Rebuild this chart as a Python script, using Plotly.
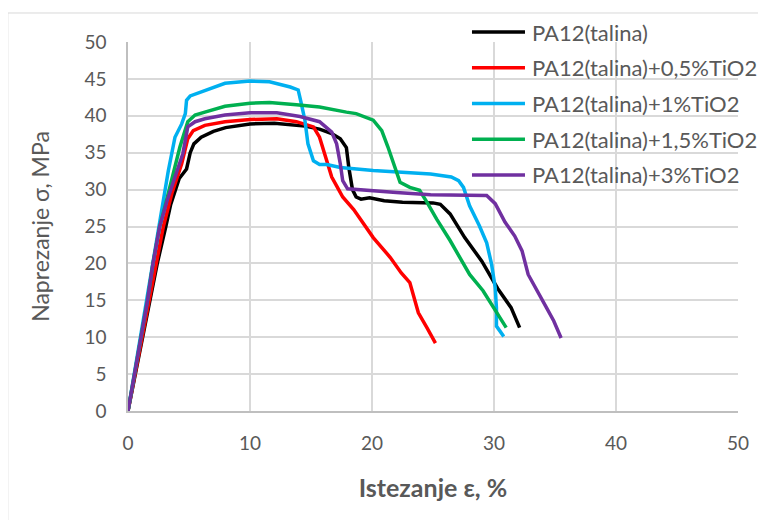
import plotly.graph_objects as go

# strain (%) / stress (MPa)
names = ['PA12(talina)', 'PA12(talina)+0,5%TiO2', 'PA12(talina)+1%TiO2',
         'PA12(talina)+1,5%TiO2', 'PA12(talina)+3%TiO2']
colors = ['#000000', '#FF0000', '#00B0F0', '#00B050', '#7030A0']

x_pa12 = [0, 0.6, 1.2, 1.8, 2.4, 3.1, 3.5, 4.2, 4.8, 5.1, 5.4, 6.0, 7.0, 8.0, 10.0, 12.0,
          13.3, 14.5, 15.7, 16.7, 17.4, 17.9, 18.1, 18.4, 18.7, 19.1, 19.8, 21.0, 22.5,
          24.0, 25.0, 25.6, 26.4, 27.6, 29.0, 30.3, 31.4, 32.1]
y_pa12 = [0, 5, 10, 15, 20, 25, 28, 31.5, 32.8, 35.0, 36.2, 37.1, 37.9, 38.4, 38.9, 39.0,
          38.8, 38.6, 38.2, 37.6, 36.9, 35.7, 33.0, 30.0, 29.0, 28.7, 28.9, 28.5, 28.3,
          28.2, 28.2, 28.0, 26.7, 23.5, 20.3, 16.6, 14.0, 11.3]

x_05 = [0, 0.58, 1.15, 1.72, 2.25, 2.9, 3.6, 4.4, 4.9, 5.35, 6.3, 7.95, 10.0, 12.2, 13.8,
        15.2, 15.7, 16.1, 16.7, 17.2, 17.6, 18.5, 19.3, 20.1, 21.5, 22.4, 23.1, 23.5,
        23.8, 24.5, 25.2]
y_05 = [0, 5, 10, 15, 20, 25, 29.5, 33.5, 36.9, 38.0, 38.7, 39.2, 39.5, 39.6, 39.2,
        38.5, 37.1, 34.9, 31.7, 30.2, 29.0, 27.3, 25.3, 23.5, 20.8, 18.7, 17.4, 14.9,
        13.3, 11.3, 9.2]

x_1 = [0, 0.5, 1.0, 1.5, 2.0, 2.6, 3.3, 3.85, 4.4, 4.7, 4.8, 5.1, 6.0, 7.95, 10.0, 11.6,
       13.3, 13.95, 14.2, 14.5, 14.75, 15.2, 15.7, 16.3, 17.4, 20.1, 24.8, 26.5, 27.1,
       27.5, 28.0, 28.8, 29.4, 29.8, 30.1, 30.2, 30.2, 30.8]
y_1 = [0, 5, 10, 15, 20, 25.8, 32.5, 37.1, 38.9, 40.3, 42.1, 42.7, 43.2, 44.4, 44.7,
       44.6, 43.9, 43.5, 41.7, 39.4, 36.2, 33.9, 33.4, 33.4, 33.0, 32.6, 32.1, 31.7,
       31.2, 30.3, 27.8, 25.1, 22.8, 19.9, 16.7, 14.0, 11.5, 10.1]

x_15 = [0, 0.55, 1.05, 1.6, 2.05, 2.6, 3.0, 3.6, 4.26, 4.9, 5.5, 6.3, 7.95, 10.0, 11.6,
        13.8, 15.7, 17.9, 18.7, 20.1, 20.8, 21.3, 21.9, 22.3, 23.1, 23.9, 24.5, 25.3,
        26.4, 27.2, 28.0, 29.1, 30.2, 31.0]
y_15 = [0, 5, 10, 15, 20, 25, 27.5, 31.5, 35.8, 39.2, 40.1, 40.5, 41.3, 41.7, 41.8,
        41.5, 41.2, 40.5, 40.3, 39.4, 38.0, 35.8, 33.0, 31.0, 30.3, 29.9, 28.3, 26.0,
        23.1, 20.8, 18.5, 16.3, 13.5, 11.3]

x_3 = [0, 0.55, 1.05, 1.6, 2.05, 2.6, 3.2, 3.8, 4.5, 4.9, 5.5, 6.3, 7.95, 10.0, 12.2,
       14.1, 15.7, 16.7, 17.1, 17.4, 17.6, 18.0, 19.3, 22.0, 24.8, 27.2, 29.4, 30.1,
       30.9, 31.7, 32.3, 32.8, 33.5, 34.3, 34.9, 35.5]
y_3 = [0, 5, 10, 15, 20, 25, 28.5, 31.5, 34.9, 38.5, 39.2, 39.6, 40.1, 40.4, 40.4,
       39.9, 39.2, 37.8, 36.2, 33.5, 31.2, 30.1, 29.9, 29.6, 29.3, 29.2, 29.2, 28.1,
       25.6, 23.7, 21.7, 18.5, 16.3, 14.0, 12.2, 9.9]

xs = [x_pa12, x_05, x_1, x_15, x_3]
ys = [y_pa12, y_05, y_1, y_15, y_3]

x_ticks = [0, 10, 20, 30, 40, 50]
y_ticks = [0, 5, 10, 15, 20, 25, 30, 35, 40, 45, 50]

font_family = 'Lato, Open Sans, sans-serif'
text_grey = '#595959'

fig = go.Figure()
for name, color, x, y in zip(names, colors, xs, ys):
    fig.add_trace(go.Scatter(
        x=x, y=y, name=name, mode='lines',
        line=dict(color=color, width=3.5),
    ))

# Excel-style legend drawn by hand (longer line samples, fixed row spacing)
shapes = [dict(type='rect', xref='paper', yref='paper',
               x0=-0.197, x1=1.06, y0=-0.32, y1=1.0786,
               line=dict(color='#D9D9D9', width=1), layer='below')]
annotations = []
for i, (name, color) in enumerate(zip(names, colors)):
    ly = 1.0271 - 0.0968 * i
    shapes.append(dict(type='line', xref='paper', yref='paper',
                       x0=0.5639, x1=0.6508, y0=ly, y1=ly,
                       line=dict(color=color, width=3.5)))
    annotations.append(dict(text=name, xref='paper', yref='paper', x=0.659, y=ly,
                            xanchor='left', yanchor='middle', showarrow=False,
                            font=dict(size=22, color=text_grey)))

fig.update_layout(
    width=766, height=520,
    margin=dict(l=120, r=36, t=34, b=117),
    paper_bgcolor='white', plot_bgcolor='white',
    font=dict(family=font_family, color=text_grey, size=19),
    showlegend=False,
    shapes=shapes,
    annotations=annotations,
)
fig.update_xaxes(
    range=[0, 50], tickvals=x_ticks, showgrid=True, gridcolor='#D9D9D9', gridwidth=1.5,
    zeroline=False, showline=True, linecolor='#BFBFBF', linewidth=1.5,
    ticks='outside', ticklen=14, tickcolor='rgba(0,0,0,0)',
    tickfont=dict(size=19, color=text_grey),
    title=dict(text='<b>Istezanje ε, %</b>', font=dict(size=25, color=text_grey), standoff=27),
)
fig.update_yaxes(
    range=[0, 50], tickvals=y_ticks, showgrid=True, gridcolor='#D9D9D9', gridwidth=1.5,
    zeroline=False, showline=True, linecolor='#BFBFBF', linewidth=1.5,
    ticks='outside', ticklen=16, tickcolor='rgba(0,0,0,0)',
    tickfont=dict(size=19, color=text_grey),
    title=dict(text='Naprezanje σ, MPa', font=dict(size=23, color=text_grey), standoff=28),
)

fig.write_html('out.html')
